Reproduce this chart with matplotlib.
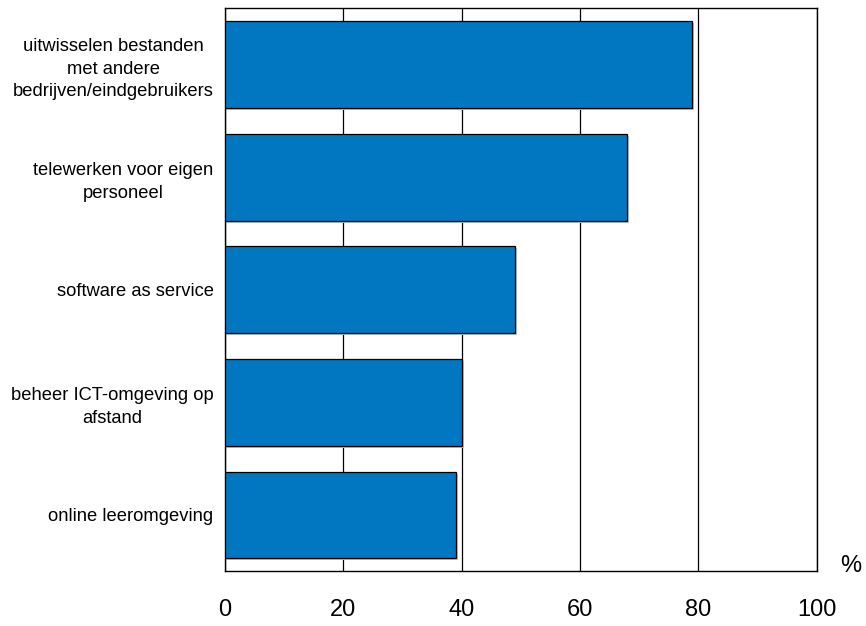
import matplotlib.pyplot as plt
import matplotlib.transforms as mtransforms

plt.rcParams['font.family'] = ['Liberation Sans', 'DejaVu Sans']

categorieen = [
    "uitwisselen bestanden\nmet andere\nbedrijven/eindgebruikers",
    "telewerken voor eigen\npersoneel",
    "software as service",
    "beheer ICT-omgeving op\nafstand",
    "online leeromgeving",
]
waarden = [79, 68, 49, 40, 39]
x_ticks = [0, 20, 40, 60, 80, 100]

fig = plt.figure(figsize=(8.66, 6.26), dpi=100)
ax = fig.add_axes([0.2595, 0.0874, 0.6836, 0.8993])

posities = list(range(len(categorieen)))
# lichte schaduw onder de balken
schaduw = ax.transData + mtransforms.ScaledTranslation(2/100, -2/100, fig.dpi_scale_trans)
ax.barh(posities, waarden, height=0.77, color='#c0c0c0', zorder=2, transform=schaduw)
ax.barh(posities, waarden, height=0.77, color='#0077c0', edgecolor='black', linewidth=0.9, zorder=3)

ax.set_xlim(0, 100)
ax.set_ylim(len(categorieen) - 0.5, -0.5)
ax.set_xticks(x_ticks)
ax.set_xticklabels([str(t) for t in x_ticks], fontsize=17)
ax.set_yticks(posities)
ax.set_yticklabels(categorieen, fontsize=13.2)
for lab in ax.get_yticklabels():
    lab.set_multialignment('center')
    lab.set_linespacing(1.42)
ax.tick_params(axis='x', length=0, pad=20)
ax.tick_params(axis='y', length=0, pad=8)
ax.grid(axis='x', color='black', linewidth=0.9, zorder=1)
for s in ax.spines.values():
    s.set_linewidth(1.0)

ax.text(1.058, 0.010, "%", transform=ax.transAxes, fontsize=17, ha='center', va='center')

fig.savefig("out.png", dpi=100)
